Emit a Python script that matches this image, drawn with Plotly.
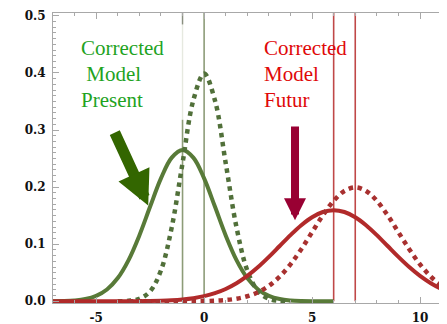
import plotly.graph_objects as go

# ---------------- data ----------------
green_solid_x = [-7, -6.5, -6, -5.5, -5, -4.5, -4, -3.5, -3, -2.5, -2, -1.5, -1,
                 -0.5, 0, 0.5, 1, 1.5, 2, 2.5, 3, 3.5, 4, 4.5, 5, 5.5, 6]
green_solid_y = [0.0001, 0.0005, 0.0015, 0.0039, 0.0095, 0.0207, 0.0407, 0.0722, 0.1153,
                 0.1659, 0.2152, 0.2516, 0.2650, 0.2516, 0.2152, 0.1659, 0.1153, 0.0722,
                 0.0407, 0.0207, 0.0095, 0.0039, 0.0015, 0.0005, 0.0001, 0.0, 0.0]

green_dot_x = [-4, -3.5, -3, -2.5, -2, -1.5, -1, -0.5, 0, 0.5, 1, 1.5, 2, 2.5, 3, 3.5, 4]
green_dot_y = [0.0001, 0.0009, 0.0044, 0.0175, 0.0540, 0.1295, 0.2420, 0.3521, 0.3989,
               0.3521, 0.2420, 0.1295, 0.0540, 0.0175, 0.0044, 0.0009, 0.0001]

red_solid_x = [-7, -6.5, -6, -5.5, -5, -4.5, -4, -3.5, -3, -2.5, -2, -1.5, -1, -0.5,
               0, 0.5, 1, 1.5, 2, 2.5, 3, 3.5, 4, 4.5, 5, 5.5, 6, 6.5, 7, 7.5, 8, 8.5,
               9, 9.5, 10, 10.5, 11, 11.5]
red_solid_y = [0.0, 0.0, 0.0, 0.0, 0.0, 0.0, 0.0001, 0.0001, 0.0002, 0.0005, 0.0010,
               0.0018, 0.0032, 0.0054, 0.0090, 0.0142, 0.0216, 0.0316, 0.0444, 0.0599,
               0.0777, 0.0968, 0.1159, 0.1333, 0.1473, 0.1564, 0.1596, 0.1564, 0.1473,
               0.1333, 0.1159, 0.0968, 0.0777, 0.0599, 0.0444, 0.0316, 0.0216, 0.0142]

red_dot_x = [-3.5, -3, -2.5, -2, -1.5, -1, -0.5, 0, 0.5, 1, 1.5, 2, 2.5, 3, 3.5, 4,
             4.5, 5, 5.5, 6, 6.5, 7, 7.5, 8, 8.5, 9, 9.5, 10, 10.5, 11, 11.5]
red_dot_y = [0.0, 0.0, 0.0, 0.0, 0.0, 0.0001, 0.0002, 0.0004, 0.0010, 0.0022, 0.0045,
             0.0088, 0.0159, 0.0270, 0.0432, 0.0648, 0.0913, 0.1210, 0.1506, 0.1760,
             0.1933, 0.1995, 0.1933, 0.1760, 0.1506, 0.1210, 0.0913, 0.0648, 0.0432,
             0.0270, 0.0159]

# reference (vertical) lines: x position and top value
green_vlines_x = [-1, 0]
green_vlines_top = [0.318, 0.505]
red_vlines_x = [6, 7]
red_vlines_top = [0.505, 0.505]
faint_vline_x = -1
faint_vline_span = [0.318, 0.505]
top_mark_span = [0.485, 0.505]

x_tick_vals = [-5, 0, 5, 10]
x_tick_text = ["-5", "0", "5", "10"]
y_tick_vals = [0.0, 0.1, 0.2, 0.3, 0.4, 0.5]
y_tick_text = ["0.0", "0.1", "0.2", "0.3", "0.4", "0.5"]

green_label = ["Corrected", " Model", "Present"]
red_label = ["Corrected", "Model", "Futur"]

# ---------------- figure ----------------
GREEN_LINE = "#587a38"
GREEN_DOT = "#51703a"
RED_LINE = "#b12a2a"
RED_DOT = "#a8302f"
GREEN_V = "#8d9c78"
RED_V = "#c04848"

fig = go.Figure()

fig.add_trace(go.Scatter(x=[faint_vline_x, faint_vline_x], y=faint_vline_span, mode="lines",
                         line=dict(color="#e6e9e0", width=1.4), hoverinfo="skip"))
fig.add_trace(go.Scatter(x=[faint_vline_x, faint_vline_x], y=top_mark_span, mode="lines",
                         line=dict(color="#8a8f80", width=1.4), hoverinfo="skip"))
for xv, top in zip(green_vlines_x, green_vlines_top):
    fig.add_trace(go.Scatter(x=[xv, xv], y=[0, top], mode="lines",
                             line=dict(color=GREEN_V, width=1.6), hoverinfo="skip"))
for xv, top in zip(red_vlines_x, red_vlines_top):
    fig.add_trace(go.Scatter(x=[xv, xv], y=[0, top], mode="lines",
                             line=dict(color=RED_V, width=1.6), hoverinfo="skip"))

fig.add_trace(go.Scatter(x=green_solid_x, y=green_solid_y, mode="lines",
                         line=dict(color=GREEN_LINE, width=4, shape="spline")))
fig.add_trace(go.Scatter(x=green_dot_x, y=green_dot_y, mode="lines",
                         line=dict(color=GREEN_DOT, width=4.5, dash="dot", shape="spline")))
fig.add_trace(go.Scatter(x=red_solid_x, y=red_solid_y, mode="lines",
                         line=dict(color=RED_LINE, width=4, shape="spline")))
fig.add_trace(go.Scatter(x=red_dot_x, y=red_dot_y, mode="lines",
                         line=dict(color=RED_DOT, width=4.5, dash="dot", shape="spline")))

# text labels
rows_y = [0.881, 0.790, 0.700]
for txt, yy in zip(green_label, rows_y):
    fig.add_annotation(xref="paper", yref="paper", x=0.066, y=yy, text=txt,
                       showarrow=False, xanchor="left", yanchor="middle",
                       font=dict(family="Liberation Serif", size=21, color="#1fa31f"))
for txt, yy in zip(red_label, rows_y):
    fig.add_annotation(xref="paper", yref="paper", x=0.530, y=yy, text=txt,
                       showarrow=False, xanchor="left", yanchor="middle",
                       font=dict(family="Liberation Serif", size=21, color="#e00808"))

# arrows
fig.add_annotation(x=-2.59, y=0.168, ax=-4.17, ay=0.298, xref="x", yref="y",
                   axref="x", ayref="y", text="", showarrow=True,
                   arrowhead=2, arrowsize=0.62, arrowwidth=11, arrowcolor="#336600")
fig.add_annotation(x=4.21, y=0.142, ax=4.21, ay=0.309, xref="x", yref="y",
                   axref="x", ayref="y", text="", showarrow=True,
                   arrowhead=2, arrowsize=0.55, arrowwidth=8, arrowcolor="#990033")

tick_font = dict(family="DejaVu Serif", size=12, color="#111111", weight="bold")

# page body adds an 8px offset, so the figure is 8px smaller than the window
fig.update_layout(
    width=439, height=316,
    margin=dict(l=45, r=0, t=5, b=21),
    paper_bgcolor="white", plot_bgcolor="white",
    showlegend=False,
    xaxis=dict(range=[-7, 11.25], showgrid=False, zeroline=False,
               showline=True, linecolor="#a8a8a8", linewidth=1, mirror="ticks",
               ticks="inside", ticklen=6, tickcolor="#a8a8a8",
               tickvals=x_tick_vals, ticktext=x_tick_text, tickfont=tick_font,
               ticklabelstandoff=4, automargin=False,
               minor=dict(dtick=1, tick0=0, ticks="inside", ticklen=3, tickcolor="#a8a8a8")),
    yaxis=dict(range=[-0.003, 0.505], showgrid=False, zeroline=False,
               showline=True, linecolor="#a8a8a8", linewidth=1, mirror=False,
               ticks="inside", ticklen=6, tickcolor="#a8a8a8",
               tickvals=y_tick_vals, ticktext=y_tick_text, tickfont=tick_font,
               ticklabelstandoff=4, automargin=False,
               minor=dict(dtick=0.01, tick0=0, ticks="inside", ticklen=3, tickcolor="#a8a8a8")),
)

fig.write_html("out.html")
